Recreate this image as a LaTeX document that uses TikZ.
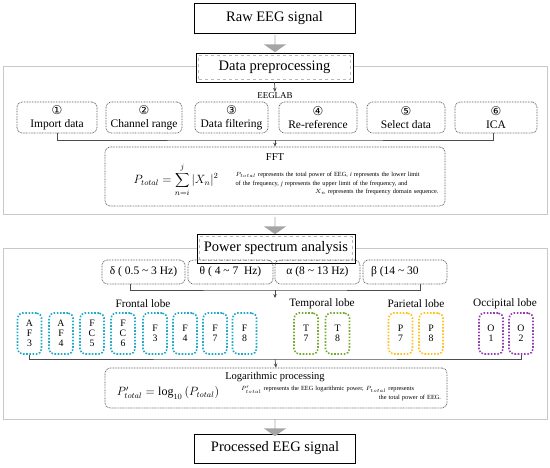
\documentclass[tikz,border=0pt]{standalone}
\usepackage{fontspec}
\setmainfont{Liberation Serif}
\newfontfamily\circfont{DejaVu Sans}
\usetikzlibrary{shapes.arrows,calc,arrows.meta}
\definecolor{cyanE}{RGB}{30,170,200}
\definecolor{greenE}{RGB}{120,170,50}
\definecolor{yellowE}{RGB}{255,195,30}
\definecolor{purpleE}{RGB}{150,60,180}
\definecolor{arrowgray}{RGB}{165,165,165}
\definecolor{framegray}{RGB}{200,200,200}
\newcommand{\circnum}[1]{{\circfont\fontsize{12}{13}\selectfont #1}}
\begin{document}
\begin{tikzpicture}[x=1pt,y=-1pt,
 titlebox/.style={draw=black, line width=0.9pt, fill=white, inner sep=0pt, font=\fontsize{14.5}{17}\selectfont},
 bigframe/.style={draw=framegray, line width=0.9pt, inner sep=0pt},
 stepbox/.style={draw=black!65, dash pattern=on 0.8pt off 0.8pt, line width=0.7pt, rounded corners=5pt, inner sep=0pt, align=center, font=\fontsize{11.5}{13}\selectfont},
 bandbox/.style={stepbox, minimum height=24pt},
 elec/.style={dash pattern=on 1.6pt off 1.6pt, line width=1.6pt, rounded corners=5pt, minimum width=24pt, minimum height=41pt, inner sep=0pt, align=center, font=\fontsize{9.8}{10}\selectfont},
 conn/.style={draw=black!70, line width=0.7pt},
 tipc/.style={conn, -{Stealth[length=4pt,width=3.5pt]}},
 garrow/.style={single arrow, fill=arrowgray, draw=none, rotate=-90, minimum height=17pt, minimum width=22pt, single arrow head extend=5pt, single arrow tip angle=110, inner sep=0pt},
 lobe/.style={font=\fontsize{11.3}{13}\selectfont},
 desc/.style={font=\fontsize{6.3}{8.5}\selectfont, text width=203pt, align=right, inner sep=0pt},
]
\useasboundingbox (0,0) rectangle (550,467);
\fill[white] (0,0) rectangle (550,467);

% section frames
\node[bigframe, minimum width=544pt, minimum height=148pt] (sec1) at (275,140) {};
\node[bigframe, minimum width=544pt, minimum height=171pt] (sec2) at (275,333.5) {};

% title boxes
\node[titlebox, minimum width=161pt, minimum height=30pt] (raw) at (274.5,18) {Raw EEG signal};
\node[titlebox, minimum width=157pt, minimum height=29pt] (dp) at (274.5,67.5) {Data preprocessing};
\draw[gray!55, dashed, line width=0.5pt] ($(dp.south west)+(3pt,3pt)$) rectangle ($(dp.north east)+(-3pt,-3pt)$);
\node[titlebox, minimum width=158pt, minimum height=29pt] (psa) at (276,248.5) {Power spectrum analysis};
\draw[gray!55, dashed, line width=0.5pt] ($(psa.south west)+(3pt,3pt)$) rectangle ($(psa.north east)+(-3pt,-3pt)$);
\node[titlebox, minimum width=161pt, minimum height=29pt] (out) at (275,448.5) {Processed EEG signal};

% gray block arrows
\node[garrow] (ga1) at (275,43.5) {};
\node[garrow] (ga2) at (275,225.5) {};
\node[garrow] (ga3) at (275,427.5) {};

% preprocessing
\node[font=\fontsize{9}{10}\selectfont, inner sep=1pt] (eeglab) at (275,96) {EEGLAB};
\draw[tipc] (dp.south) -- (eeglab.north);

\node[stepbox, minimum width=80pt, minimum height=31pt] (b1) at (57,117.5) {\circnum{①}\\Import data};
\node[stepbox, minimum width=76pt, minimum height=31pt] (b2) at (144,117.5) {\circnum{②}\\Channel range};
\node[stepbox, minimum width=73pt, minimum height=31pt] (b3) at (231.5,117.5) {\circnum{③}\\Data filtering};
\node[stepbox, minimum width=78pt, minimum height=31pt] (b4) at (318,117.5) {\circnum{④}\\Re-reference};
\node[stepbox, minimum width=78pt, minimum height=31pt] (b5) at (406,117.5) {\circnum{⑤}\\Select data};
\node[stepbox, minimum width=82pt, minimum height=31pt] (b6) at (496,117.5) {\circnum{⑥}\\ICA};

\node[stepbox, minimum width=340pt, minimum height=59pt] (fft) at (275,176.5) {};
\coordinate (j1) at (275,140);
\draw[conn] (b1.south) |- (j1) -| ([xshift=-3pt]b6.south);
\draw[tipc] (j1) -- (fft.north);
\node[font=\fontsize{10.5}{12}\selectfont, inner sep=0pt] (fftt) at (275,157) {FFT};
\node[inner sep=0pt, font=\fontsize{12}{14}\selectfont] (fftf) at (176,180) {$\displaystyle P_{total}=\sum_{n=i}^{j}|X_n|^2$};
\node[desc] (fftd) at (337,183.5) {\makebox[203pt][s]{$P_{total}$ represents the total power of EEG, \textit{i} represents the lower limit}\\
\makebox[203pt][s]{of the frequency, \textit{j} represents the upper limit of the frequency, and}\\
$X_n$ represents the frequency domain sequence.};

% power spectrum
\node[bandbox, minimum width=83pt] (bd) at (143.5,272) {δ ( 0.5 \textasciitilde{} 3 Hz)};
\node[bandbox, minimum width=85pt] (bt) at (230.5,272) {θ ( 4 \textasciitilde{} 7~ Hz)};
\node[bandbox, minimum width=85pt] (ba) at (317.5,272) {α (8 \textasciitilde{} 13 Hz)};
\node[bandbox, minimum width=84pt] (bb) at (405,272) {β (14 \textasciitilde{} 30\phantom{ Hz)}};
\coordinate (j2) at (275,290);
\draw[conn] ([xshift=-13.5pt]bd.south) |- (j2) -| ([xshift=15pt]bb.south);
\coordinate (j2b) at (275,298);
\draw[tipc] (j2) -- (j2b);

\node[lobe] (lf) at (143,304) {Frontal lobe};
\node[lobe] (lt) at (322,304) {Temporal lobe};
\node[lobe] (lp) at (416,304) {Parietal lobe};
\node[lobe] (lo) at (505,304) {Occipital lobe};

\node[elec, draw=cyanE] (f1) at (29.5,333.5) {A\\F\\3};
\node[elec, draw=cyanE] (f2) at (61,333.5) {A\\F\\4};
\node[elec, draw=cyanE] (f3) at (92,333.5) {F\\C\\5};
\node[elec, draw=cyanE] (f4) at (123,333.5) {F\\C\\6};
\node[elec, draw=cyanE] (f5) at (155,333.5) {F\\3};
\node[elec, draw=cyanE] (f6) at (185,333.5) {F\\4};
\node[elec, draw=cyanE] (f7) at (215,333.5) {F\\7};
\node[elec, draw=cyanE] (f8) at (244.5,333.5) {F\\8};
\node[elec, draw=greenE] (t7) at (306,333.5) {T\\7};
\node[elec, draw=greenE] (t8) at (337.5,333.5) {T\\8};
\node[elec, draw=yellowE] (p7) at (400.5,333.5) {P\\7};
\node[elec, draw=yellowE] (p8) at (431,333.5) {P\\8};
\node[elec, draw=purpleE] (o1) at (491,333.5) {O\\1};
\node[elec, draw=purpleE] (o2) at (521,333.5) {O\\2};

\node[stepbox, minimum width=342pt, minimum height=40pt] (logb) at (276,388) {};
\coordinate (j3) at (275,359);
\draw[conn] (f1.south) |- (j3) -| (o2.south);
\draw[tipc] (j3) -- (logb.north);
\node[font=\fontsize{10.5}{12}\selectfont, inner sep=0pt] (logt) at (275,377) {Logarithmic processing};
\node[inner sep=0pt, font=\fontsize{12}{14}\selectfont] (logf) at (168,393) {$P'_{total}=\log_{10}\,(P_{total})$};
\node[desc, text width=200pt] (logd) at (341,393) {\makebox[200pt][s]{$P_{total}'$ represents the EEG logarithmic power, $P_{total}$ represents}\\
the total power of EEG.};
\end{tikzpicture}
\end{document}
